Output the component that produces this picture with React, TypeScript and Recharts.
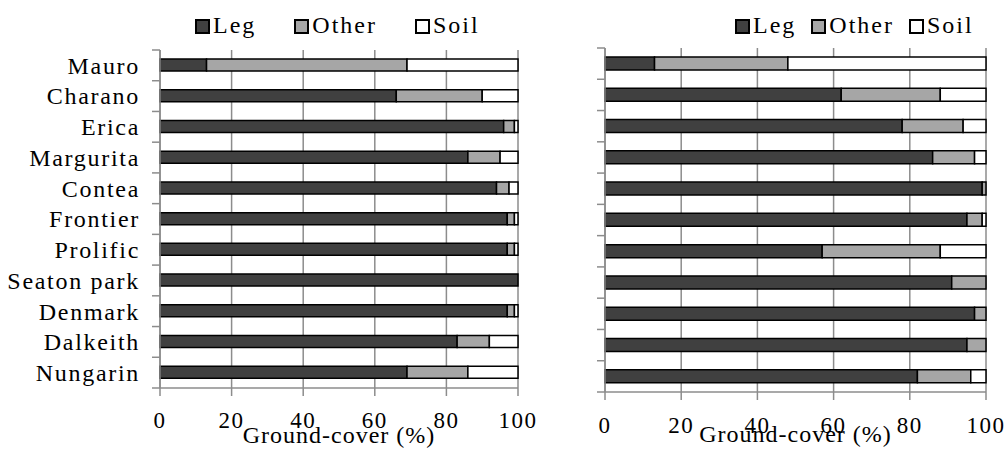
import React from 'react';
import { BarChart, Bar, XAxis, YAxis, CartesianGrid, Legend } from 'recharts';

const categories = ['Mauro', 'Charano', 'Erica', 'Margurita', 'Contea', 'Frontier', 'Prolific', 'Seaton park', 'Denmark', 'Dalkeith', 'Nungarin'];
const xTicks = [0, 20, 40, 60, 80, 100];

// left panel
const legLeft = [13, 66, 96, 86, 94, 97, 97, 100, 97, 83, 69];
const otherLeft = [56, 24, 3, 9, 3.5, 2, 2, 0, 2, 9, 17];
const soilLeft = [31, 10, 1, 5, 2.5, 1, 1, 0, 1, 8, 14];

// right panel
const legRight = [13, 62, 78, 86, 99, 95, 57, 91, 97, 95, 82];
const otherRight = [35, 26, 16, 11, 1, 4, 31, 9, 3, 5, 14];
const soilRight = [52, 12, 6, 3, 0, 1, 12, 0, 0, 0, 4];

const leftData = categories.map((name, i) => ({ name, Leg: legLeft[i], Other: otherLeft[i], Soil: soilLeft[i] }));
const rightData = categories.map((name, i) => ({ name, Leg: legRight[i], Other: otherRight[i], Soil: soilRight[i] }));

const FONT = 'Liberation Serif';
const GRID = '#8c8c8c';
const LEG = '#404040';
const OTHER = '#a6a6a6';
const SOIL = '#ffffff';

const renderLegend = (gap: number) => (props: any) => {
  const { payload } = props;
  return (
    <div style={{ display: 'flex', gap, fontFamily: FONT, fontSize: 24, lineHeight: '28px', whiteSpace: 'nowrap' }}>
      {payload.map((p: any) => (
        <span key={p.value} style={{ display: 'flex', alignItems: 'center', letterSpacing: 2 }}>
          <span style={{ display: 'inline-block', width: 15, height: 15, boxSizing: 'border-box', background: p.color, border: '2px solid #000', marginRight: 3, marginTop: 2 }} />
          {p.value}
        </span>
      ))}
    </div>
  );
};

const makeTick = (band: number, offset: number, showText: boolean) => (props: any) => {
  const { x, y, payload, index } = props;
  const ax = x + offset;
  return (
    <g>
      {showText && (
        <text x={x} y={y} dy="0.35em" textAnchor="end" fontSize={24} letterSpacing={1.7} fill="#000" style={{ fontFamily: FONT }}>
          {payload.value}
        </text>
      )}
      <line x1={ax - 8} x2={ax} y1={y - band / 2} y2={y - band / 2} stroke={GRID} strokeWidth={1.5} />
      {index === categories.length - 1 && (
        <line x1={ax - 8} x2={ax} y1={y + band / 2} y2={y + band / 2} stroke={GRID} strokeWidth={1.5} />
      )}
    </g>
  );
};

const Panel: React.FC<{
  data: any[];
  width: number;
  top: number;
  right: number;
  yWidth: number;
  xHeight: number;
  tickMargin: number;
  labelOffset: number;
  showNames: boolean;
  legendLeft: number;
  legendGap: number;
  barSize: number;
}> = (p) => {
  const plotH = 453 - p.top - p.xHeight;
  const band = plotH / categories.length;
  return (
    <BarChart
      width={p.width}
      height={453}
      data={p.data}
      layout="vertical"
      margin={{ top: p.top, right: p.right, bottom: 0, left: 0 }}
      style={{ fontFamily: FONT }}
    >
      <CartesianGrid horizontal={false} stroke={GRID} strokeWidth={1.5} />
      <XAxis
        type="number"
        domain={[0, 100]}
        ticks={xTicks}
        height={p.xHeight}
        tickSize={8}
        tickMargin={p.tickMargin}
        axisLine={{ stroke: GRID, strokeWidth: 1.5 }}
        tickLine={{ stroke: GRID, strokeWidth: 1.5 }}
        tick={{ fontSize: 23, fill: '#000', letterSpacing: 1.5, style: { fontFamily: FONT } }}
        label={{ value: 'Ground-cover (%)', position: 'insideBottom', offset: p.labelOffset, fontSize: 24, letterSpacing: 1, fill: '#000', style: { fontFamily: FONT } }}
      />
      <YAxis
        type="category"
        dataKey="name"
        width={p.yWidth}
        interval={0}
        tickSize={8}
        tickMargin={p.showNames ? 12 : 0}
        tickLine={false}
        axisLine={{ stroke: GRID, strokeWidth: 1.5 }}
        tick={makeTick(band, p.showNames ? 20 : 8, p.showNames)}
      />
      <Legend
        verticalAlign="middle"
        align="center"
        content={renderLegend(p.legendGap)}
        wrapperStyle={{ top: 11, left: p.legendLeft, width: 'auto' }}
      />
      <Bar dataKey="Leg" stackId="a" fill={LEG} stroke="#000" strokeWidth={1.5} barSize={p.barSize} isAnimationActive={false} />
      <Bar dataKey="Other" stackId="a" fill={OTHER} stroke="#000" strokeWidth={1.5} barSize={p.barSize} isAnimationActive={false} />
      <Bar dataKey="Soil" stackId="a" fill={SOIL} stroke="#000" strokeWidth={1.5} barSize={p.barSize} isAnimationActive={false} />
    </BarChart>
  );
};

const App: React.FC = () => {
  return (
    <div style={{ position: 'absolute', left: 0, top: 0, width: 1006, height: 453, background: '#fff', overflow: 'hidden', fontFamily: FONT }}>
      <div style={{ position: 'absolute', left: 0, top: 0 }}>
        <Panel
          data={leftData}
          width={540}
          top={50}
          right={22}
          yWidth={160}
          xHeight={65}
          tickMargin={16}
          labelOffset={10}
          showNames
          legendLeft={195}
          legendGap={38}
          barSize={12}
        />
      </div>
      <div style={{ position: 'absolute', left: 560, top: 0 }}>
        <Panel
          data={rightData}
          width={446}
          top={48}
          right={20}
          yWidth={45}
          xHeight={61}
          tickMargin={17}
          labelOffset={11}
          showNames={false}
          legendLeft={175}
          legendGap={15}
          barSize={13}
        />
      </div>
    </div>
  );
};

export default App;
